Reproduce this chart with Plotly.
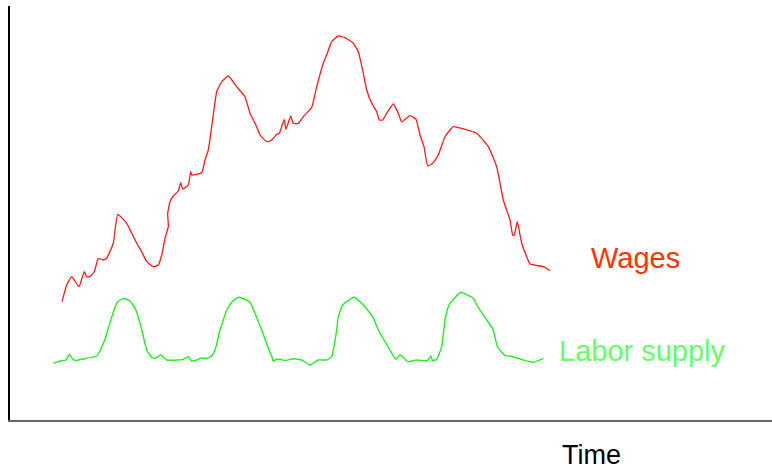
import plotly.graph_objects as go

# Time axis positions and series values (arbitrary units)
wages_t = [62, 66.7, 71.7, 79, 84.3, 86.7, 90, 94.3, 98.3, 103.3,
           106.7, 113.3, 117.7, 126.7, 136.7, 141.7, 146.7, 153.3, 158.3, 161.7,
           165, 168.3, 167.7, 170, 173.3, 178.3, 180.7, 182.7, 188.3, 190.7,
           191.7, 201.7, 205, 208.3, 211.7, 216.7, 221.7, 228.3, 236.7, 245,
           250, 256.7, 260, 266.7, 271.7, 276.7, 279.3, 284.3, 286, 290.7,
           293.3, 298.3, 303.3, 311.7, 316.7, 323.3, 327.3, 331.7, 338.3, 345,
           353.3, 358.3, 363.3, 366.7, 371.7, 376.7, 379.3, 382.7, 386.7, 393.3,
           398.3, 401.7, 410, 416, 420, 424, 427.7, 432.7, 438.3, 445,
           453.3, 465, 476.7, 488.3, 496.7, 503.3, 510, 512.7, 514.3, 517.3,
           521.7, 526.7, 530, 543.3, 550]
wages = [118.3, 135, 143.3, 133.3, 148.3, 143.3, 143.3, 148.3, 161.7, 160,
         161.7, 176.7, 205.7, 196.7, 176.7, 168.3, 158.3, 153.3, 155, 165,
         181.7, 193.3, 206.7, 218.3, 224, 229, 237.3, 231, 235, 248.3,
         245, 247.3, 260, 270, 293.3, 328.3, 338.3, 344, 333.3, 323.3,
         306.7, 293.3, 285, 278.3, 280, 285.7, 286.7, 300.7, 290.7, 304,
         296.7, 296.7, 303.3, 312.7, 333.3, 356.7, 366.7, 378.3, 384, 382.3,
         376.7, 368.3, 346.7, 330, 316.7, 308.3, 300, 300, 306.7, 316,
         306.7, 298.3, 304.3, 300.7, 285, 273.3, 254, 256.7, 265, 283.3,
         293.3, 290.7, 286.7, 273.3, 253.3, 220, 200, 185, 185, 198.3,
         176.7, 163.3, 156, 153.3, 149.3]

labor_t = [53.3, 60, 66, 69.3, 72, 75, 83.3, 96.7, 100, 105.7,
           111.7, 117.3, 123.3, 129.3, 135, 140, 143, 146.7, 151.7, 155,
           160.7, 166.7, 176.7, 183.3, 188.3, 191.7, 196.7, 201.7, 206.7, 211.7,
           216, 220, 221.7, 226.7, 232, 238.3, 244, 250, 255, 261.7,
           268.3, 272, 273.3, 275, 280, 285, 293.3, 301.7, 310, 318.3,
           326.7, 331.7, 333.3, 336.7, 338.3, 342.7, 354, 363.3, 372.7, 378.3,
           384, 390, 396, 400, 403.3, 407.3, 416.7, 427.3, 430.7, 432.7,
           436.7, 441.7, 445, 449, 460.7, 473.3, 476.7, 486.7, 493.3, 497.3,
           505, 510, 523.3, 533.3, 543.3]
labor = [56.7, 59, 60, 65.5, 62, 59.5, 61, 64, 69, 83,
         103, 118, 121.5, 119.5, 112, 97, 85, 70, 62.7, 61.7,
         65, 60, 60, 60.7, 63.3, 59, 60, 62, 61.7, 64,
         73.3, 90, 95, 110, 118, 122.7, 121, 117.7, 106.7, 90,
         72, 63, 58.3, 60, 60.7, 59.3, 61.3, 60, 55, 60,
         60, 63.3, 70, 90, 103.3, 115, 122.7, 115, 103.3, 90,
         80, 70, 60.7, 65, 62.7, 58.3, 60, 59.3, 64, 59.3,
         60.7, 73.3, 100, 115, 127.7, 121.7, 115, 100, 90, 73.3,
         64.3, 64, 60, 57.7, 61.7]

series_labels = ["Wages", "Labor supply"]
axis_label = "Time"

fig = go.Figure()
fig.add_trace(go.Scatter(x=wages_t, y=wages, mode="lines", name=series_labels[0],
                         line=dict(color="#ff1a1a", width=1.3, shape="spline", smoothing=0.4),
                         hoverinfo="skip"))
fig.add_trace(go.Scatter(x=labor_t, y=labor, mode="lines", name=series_labels[1],
                         line=dict(color="#22ee22", width=1.4, shape="spline", smoothing=0.4),
                         hoverinfo="skip"))

font_family = "Liberation Sans, Arial, sans-serif"
fig.add_annotation(x=635, y=162, xref="x", yref="y", text=series_labels[0], showarrow=False,
                   font=dict(family=font_family, size=29, color="#ff3300"),
                   xanchor="center", yanchor="middle")
fig.add_annotation(x=642, y=69, xref="x", yref="y", text=series_labels[1], showarrow=False,
                   font=dict(family=font_family, size=29, color="#66ff66"),
                   xanchor="center", yanchor="middle")
fig.add_annotation(x=591, y=-0.1232, xref="x", yref="paper", text=axis_label, showarrow=False,
                   font=dict(family=font_family, size=27, color="#000000"),
                   xanchor="center", yanchor="bottom", borderpad=0)

fig.update_layout(
    width=772, height=471,
    margin=dict(l=10, r=0, t=6, b=51),
    paper_bgcolor="white", plot_bgcolor="white",
    showlegend=False,
    xaxis=dict(range=[10, 772], showgrid=False, zeroline=False, showticklabels=False,
               ticks="", showline=True, linecolor="#666666", linewidth=2, fixedrange=True),
    yaxis=dict(range=[0, 414], showgrid=False, zeroline=False, showticklabels=False,
               ticks="", showline=True, linecolor="#000000", linewidth=2, fixedrange=True),
)

fig.write_html("out.html", config={"displayModeBar": False},
               post_script="document.body.style.margin='0';document.body.style.overflow='hidden';")
